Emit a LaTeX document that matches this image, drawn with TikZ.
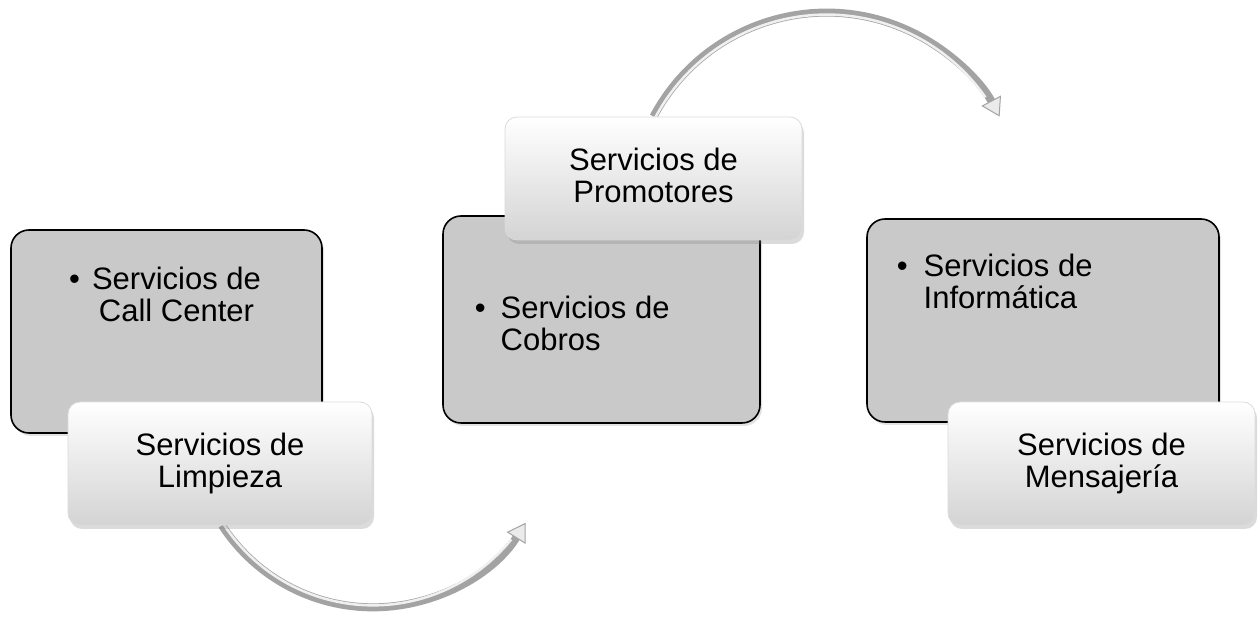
\documentclass[tikz,border=0pt]{standalone}
\usepackage{fontspec}
\setmainfont{Liberation Sans}
\usetikzlibrary{arrows.meta,shadows,backgrounds}
\newcommand\servfont{\fontsize{31}{32}\selectfont}
\begin{document}
\begin{tikzpicture}[x=1pt,y=1pt,
  graybox/.style={draw=black, line width=1.6pt, fill=black!21, rounded corners=18pt, inner sep=0pt,
    drop shadow={shadow xshift=2pt, shadow yshift=-3pt, opacity=0.22}},
  whitebox/.style={draw=black!14, line width=0.8pt, top color=white, bottom color=black!17,
    rounded corners=12pt, inner sep=0pt, minimum height=123pt, align=center, font=\servfont,
    drop shadow={shadow xshift=2pt, shadow yshift=-4pt, opacity=0.28}},
  btext/.style={inner sep=0pt, font=\servfont},
  band/.style={line width=8pt, draw=black!36},
  bandhl/.style={line width=2.5pt, draw=black!6},
  head/.style={-{Triangle[length=18pt,width=22pt,line width=1pt,fill=black!8]}}
]
\useasboundingbox (0,0) rectangle (1260,620);

% gray boxes
\node[graybox, minimum width=311pt, minimum height=203pt] (cc) at (166.5,288.5) {};
\node[graybox, minimum width=317pt, minimum height=207pt] (cob) at (601.5,300.5) {};
\node[graybox, minimum width=352pt, minimum height=203pt] (inf) at (1043,299.5) {};

% bullet texts
\node[btext, align=center, anchor=north] (cct) at (176.5,353) {\llap{•\hspace{12pt}}Servicios de\\Call Center};
\node[btext, align=left, anchor=north west] (cobt) at (500.5,324) {\llap{•\hspace{15pt}}Servicios de\\Cobros};
\node[btext, align=left, anchor=north west] (inft) at (923.5,366) {\llap{•\hspace{16pt}}Servicios de\\Informática};

% white boxes
\node[whitebox, minimum width=304pt] (limp) at (220,156.5) {Servicios de\\Limpieza};
\node[whitebox, minimum width=297pt] (prom) at (653.5,441.5) {Servicios de\\Promotores\vphantom{p}};
\node[whitebox, minimum width=307pt] (mens) at (1101.5,156.5) {Servicios de\\Mensajería};

% curved arrows
\begin{scope}[on background layer]
\fill[white] (0,0) rectangle (1260,620);
\draw[band, head] ([xshift=2pt]limp.south) arc[start angle=213, end angle=328, radius=180pt];
\draw[bandhl] ([xshift=3.68pt,yshift=1.09pt]limp.south) arc[start angle=213, end angle=321, radius=178pt];
\draw[band, head] (prom.north) arc[start angle=152, end angle=28, radius=196pt];
\draw[bandhl] ([xshift=1.77pt,yshift=-0.94pt]prom.north) arc[start angle=152, end angle=35, radius=194pt];
\end{scope}
\end{tikzpicture}
\end{document}
